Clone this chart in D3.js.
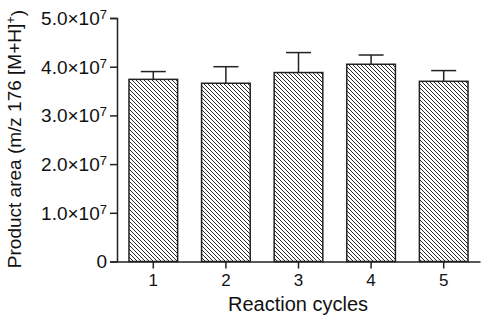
<!DOCTYPE html>
<html>
<head>
<meta charset="utf-8">
<script src="https://cdn.jsdelivr.net/npm/d3@7"></script>
<style>
	body { margin: 0; background: #fff; }
	svg text { font-family: "Liberation Sans", Arial, sans-serif; fill: #111; }
</style>
</head>
<body>
<svg id="chart" width="484" height="319"></svg>
<script>

// Data
const cycles = ["1", "2", "3", "4", "5"];
const areas = [3.74e7, 3.66e7, 3.88e7, 4.05e7, 3.70e7];
const errors = [0.16e7, 0.34e7, 0.41e7, 0.19e7, 0.22e7];
const yTicks = [0, 1e7, 2e7, 3e7, 4e7, 5e7];

const svg = d3.select("#chart");

// Scales
const xScale = d3.scaleBand()
				.domain(cycles)
				.range([117, 480])
				.paddingInner(0.33)
				.paddingOuter(0.165);

const yScale = d3.scaleLinear()
				.domain([0, 5e7])
				.range([261.5, 18]);

// Hatch pattern
const defs = svg.append("defs");
const pattern = defs.append("pattern")
				.attr("id", "hatch")
				.attr("patternUnits", "userSpaceOnUse")
				.attr("width", 4)
				.attr("height", 4);
pattern.append("rect")
		.attr("width", 4)
		.attr("height", 4)
		.attr("fill", "#fff");
pattern.append("path")
		.attr("d", "M-1,-1 L5,5 M-1,3 L1,5 M3,-1 L5,1")
		.attr("stroke", "#111")
		.attr("stroke-width", 0.9);

const data = cycles.map((c, i) => ({ cycle: c, value: areas[i], err: errors[i] }));

// Error bars (drawn first so bars cover the stem)
const errG = svg.append("g");
errG.selectAll("line.stem")
	.data(data)
	.enter()
	.append("line")
		.attr("x1", d => xScale(d.cycle) + xScale.bandwidth() / 2)
		.attr("x2", d => xScale(d.cycle) + xScale.bandwidth() / 2)
		.attr("y1", d => yScale(d.value))
		.attr("y2", d => yScale(d.value + d.err))
		.attr("stroke", "#222")
		.attr("stroke-width", 1.5);

errG.selectAll("line.cap")
	.data(data)
	.enter()
	.append("line")
		.attr("x1", d => xScale(d.cycle) + xScale.bandwidth() / 2 - 12.5)
		.attr("x2", d => xScale(d.cycle) + xScale.bandwidth() / 2 + 12.5)
		.attr("y1", d => yScale(d.value + d.err))
		.attr("y2", d => yScale(d.value + d.err))
		.attr("stroke", "#222")
		.attr("stroke-width", 1.5);

// Bars
svg.append("g")
	.selectAll("rect")
	.data(data)
	.enter()
	.append("rect")
		.attr("x", d => xScale(d.cycle))
		.attr("y", d => yScale(d.value))
		.attr("width", xScale.bandwidth())
		.attr("height", d => yScale(0) - yScale(d.value))
		.attr("fill", "url(#hatch)")
		.attr("stroke", "#222")
		.attr("stroke-width", 1.5);

// Y axis (lines only, labels drawn below)
const yAxis = d3.axisLeft(yScale)
				.tickValues(yTicks)
				.tickSize(7)
				.tickFormat("");

const yG = svg.append("g")
			.attr("transform", "translate(117,0)")
			.call(yAxis);
yG.select(".domain").attr("stroke", "#222").attr("stroke-width", 1.5);
yG.selectAll(".tick line").attr("stroke", "#222").attr("stroke-width", 1.5);

const yLabels = svg.append("g")
				.selectAll("text")
				.data(yTicks)
				.enter()
				.append("text")
					.attr("x", 107)
					.attr("y", d => yScale(d))
					.attr("dy", "0.36em")
					.attr("text-anchor", "end")
					.attr("font-size", 19);

yLabels.append("tspan")
		.text(d => d === 0 ? "0" : (d / 1e7).toFixed(1) + "\u00d710");
yLabels.filter(d => d !== 0)
		.append("tspan")
			.attr("dy", "-0.45em")
			.attr("font-size", 13)
			.text("7");

// X axis (lines only, labels drawn below)
const xAxis = d3.axisBottom(xScale)
				.tickSize(7)
				.tickSizeOuter(0)
				.tickFormat("");

const xG = svg.append("g")
			.attr("transform", "translate(0," + yScale(0) + ")")
			.call(xAxis);
xG.select(".domain").attr("stroke", "#222").attr("stroke-width", 1.5);
xG.selectAll(".tick line").attr("stroke", "#222").attr("stroke-width", 1.5);

svg.append("g")
	.selectAll("text")
	.data(cycles)
	.enter()
	.append("text")
		.attr("x", d => xScale(d) + xScale.bandwidth() / 2)
		.attr("y", 286)
		.attr("text-anchor", "middle")
		.attr("font-size", 17)
		.text(d => d);

// Axis titles
svg.append("text")
	.attr("x", 298)
	.attr("y", 311)
	.attr("text-anchor", "middle")
	.attr("font-size", 20)
	.text("Reaction cycles");

const yTitle = svg.append("text")
				.attr("transform", "translate(21,139) rotate(-90)")
				.attr("text-anchor", "middle")
				.attr("font-size", 19);
yTitle.append("tspan").text("Product area (m/z 176 [M+H]");
yTitle.append("tspan").attr("dy", "-0.45em").attr("font-size", 13).text("+");
yTitle.append("tspan").attr("dy", "0.45em").text(")");

</script>
</body>
</html>
